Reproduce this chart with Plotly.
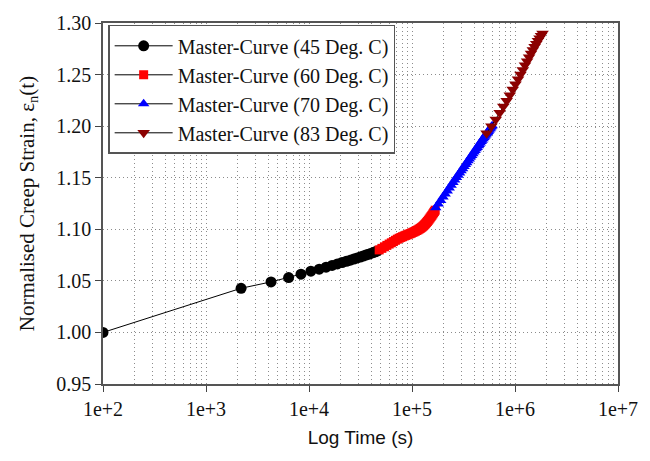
import plotly.graph_objects as go

# ---- data (time in s, normalised creep strain) ----
t45 = [100, 2190, 4280, 6340, 8360, 10430, 12560, 14650, 16750, 18850, 20950,
       23050, 25150, 27250, 29350, 31450, 33550, 35650, 37750, 39850, 41950,
       44050, 46150]
e45 = [1.0000, 1.0428, 1.0490, 1.0532, 1.0565, 1.0594, 1.0613, 1.0633, 1.0650,
       1.0664, 1.0678, 1.0690, 1.0701, 1.0712, 1.0722, 1.0731, 1.0741, 1.0750,
       1.0758, 1.0766, 1.0774, 1.0782, 1.0790]

t60 = [48000, 51000, 54000, 57000, 60000, 63000, 66000, 69000, 72000, 75000,
       78000, 81000, 84000, 87000, 90000, 93000, 96000, 99000, 102000, 105000,
       108000, 111000, 114000, 117000, 120000, 123000, 126000, 129000, 132000,
       135000, 138000, 141000, 144000, 147000, 150000, 153000, 156000, 159000,
       162000, 165000, 168000]
e60 = [1.0800, 1.0815, 1.0830, 1.0844, 1.0857, 1.0869, 1.0881, 1.0893, 1.0904,
       1.0913, 1.0921, 1.0928, 1.0935, 1.0941, 1.0947, 1.0953, 1.0958, 1.0964,
       1.0970, 1.0976, 1.0982, 1.0988, 1.0994, 1.1001, 1.1008, 1.1016, 1.1024,
       1.1033, 1.1043, 1.1053, 1.1064, 1.1075, 1.1087, 1.1099, 1.1111, 1.1123,
       1.1135, 1.1148, 1.1160, 1.1172, 1.1185]

t70 = [170000, 180000, 190000, 200000, 210000, 220000, 230000, 240000, 250000,
       260000, 270000, 280000, 290000, 300000, 310000, 320000, 330000, 340000,
       350000, 360000, 370000, 380000, 390000, 400000, 410000, 420000, 430000,
       440000, 450000, 460000, 470000, 480000, 490000, 500000, 510000, 520000,
       530000, 540000, 550000, 560000, 570000, 580000, 590000, 600000]
e70 = [1.1210, 1.1246, 1.1280, 1.1312, 1.1343, 1.1372, 1.1400, 1.1427, 1.1453,
       1.1478, 1.1501, 1.1524, 1.1546, 1.1568, 1.1588, 1.1608, 1.1628, 1.1646,
       1.1665, 1.1682, 1.1700, 1.1716, 1.1733, 1.1749, 1.1764, 1.1780, 1.1794,
       1.1809, 1.1823, 1.1837, 1.1850, 1.1864, 1.1877, 1.1889, 1.1902, 1.1914,
       1.1926, 1.1938, 1.1949, 1.1961, 1.1972, 1.1983, 1.1994, 1.2004]

t83 = [530000, 590000, 650000, 710000, 770000, 830000, 890000, 950000, 1010000,
       1070000, 1130000, 1190000, 1250000, 1310000, 1370000, 1430000, 1490000,
       1550000, 1610000, 1670000, 1730000, 1790000, 1850000]
e83 = [1.1930, 1.2000, 1.2065, 1.2130, 1.2190, 1.2245, 1.2300, 1.2355, 1.2405,
       1.2455, 1.2500, 1.2545, 1.2590, 1.2630, 1.2668, 1.2704, 1.2738, 1.2770,
       1.2800, 1.2828, 1.2853, 1.2876, 1.2898]

xtick_vals = [1e2, 1e3, 1e4, 1e5, 1e6, 1e7]
xtick_text = ["1e+2", "1e+3", "1e+4", "1e+5", "1e+6", "1e+7"]

series = [
    ("Master-Curve (45 Deg. C)", t45, e45, "circle", "#000000", 11),
    ("Master-Curve (60 Deg. C)", t60, e60, "square", "#FF0000", 9),
    ("Master-Curve (70 Deg. C)", t70, e70, "triangle-up", "#0000FF", 10),
    ("Master-Curve (83 Deg. C)", t83, e83, "triangle-down", "#8B0000", 11),
]

fig = go.Figure()
for name, t, e, sym, col, sz in series:
    fig.add_trace(go.Scatter(
        x=t, y=e, name=name, mode="lines+markers",
        line=dict(color="#000000", width=1),
        marker=dict(symbol=sym, color=col, size=sz, line=dict(width=0)),
    ))

serif = "Liberation Serif"
grid = "#8c8c8c"
gdash = "1px,3px"
fig.update_layout(
    width=650, height=461,
    paper_bgcolor="white", plot_bgcolor="white",
    margin=dict(l=103, r=30, t=15, b=77),
    font=dict(family=serif, size=20, color="#111111"),
    showlegend=True,
    legend=dict(
        x=0.01, y=0.995, xanchor="left", yanchor="top",
        bgcolor="white", bordercolor="#555555", borderwidth=1.5,
        font=dict(family=serif, size=20, color="#111111"),
        itemwidth=58, tracegroupgap=0,
    ),
)
fig.update_xaxes(
    type="log", range=[2, 7],
    tickvals=xtick_vals, ticktext=xtick_text,
    ticks="outside", ticklen=6, tickcolor="#444444",
    showline=True, linecolor="#555555", linewidth=1.5, mirror=True,
    showgrid=True, gridcolor=grid, griddash=gdash, gridwidth=1,
    minor=dict(dtick="D1", showgrid=True, gridcolor=grid, griddash=gdash,
               gridwidth=1, ticks=""),
    tickfont=dict(family=serif, size=20),
    title=dict(text="Log Time (s)", font=dict(family="Liberation Sans", size=19),
               standoff=12),
    zeroline=False,
)
fig.update_yaxes(
    range=[0.95, 1.30], dtick=0.05, tick0=0.95, tickformat=".2f",
    ticks="outside", ticklen=6, tickcolor="#444444",
    showline=True, linecolor="#555555", linewidth=1.5, mirror=True,
    showgrid=True, gridcolor=grid, griddash=gdash, gridwidth=1,
    tickfont=dict(family=serif, size=20),
    title=dict(text="Normalised Creep Strain, ε<sub>n</sub>(t)",
               font=dict(family=serif, size=21), standoff=16),
    zeroline=False,
)

fig.write_html("out.html", config={"displayModeBar": False},
               post_script="document.body.style.margin='0px';")
